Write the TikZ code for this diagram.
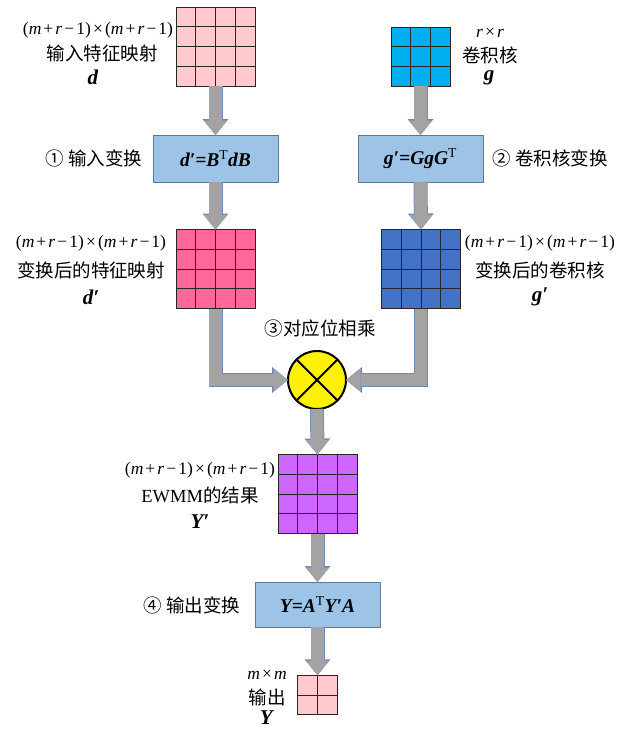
\documentclass[tikz,border=0pt]{standalone}
\usepackage{fontspec}
\setmainfont{Liberation Serif}
\newfontfamily\cjk{Noto Sans CJK SC}
\usetikzlibrary{arrows.meta,calc}

\definecolor{pinklight}{HTML}{FFC9CD}
\definecolor{pinkhot}{HTML}{FF6699}
\definecolor{cyanblue}{HTML}{00B0F0}
\definecolor{darkblue}{HTML}{4472C4}
\definecolor{violet}{HTML}{CC66FF}
\definecolor{boxfill}{HTML}{9DC3E6}
\definecolor{boxedge}{HTML}{5F7896}
\definecolor{arrowgray}{HTML}{A3A3A3}
\definecolor{arrowedge}{HTML}{6F8AB4}

% binary operator with a little space around it
\newcommand\bop[1]{\hspace{0.12em}#1\hspace{0.12em}}
\newcommand\sizeexpr{(\textit{m}\bop{+}\textit{r}\bop{−}1)\bop{×}(\textit{m}\bop{+}\textit{r}\bop{−}1)}
\newcommand\bfi[1]{\textbf{\textit{#1}}}
\newcommand\supT{\textsuperscript{\mdseries\upshape T}}

% a square matrix of cells: name, centre x, centre y, side, fill, inner fractions
\newcommand\matgrid[6]{%
  \node[gridbox, fill=#5, minimum size=#4pt] (#1) at (#2,#3) {};
  \foreach \f in {#6} {
    \draw[gridline] ($(#1.north west)!\f!(#1.north east)$) -- ($(#1.south west)!\f!(#1.south east)$);
    \draw[gridline] ($(#1.north west)!\f!(#1.south west)$) -- ($(#1.north east)!\f!(#1.south east)$);
  }
}

\begin{document}
\begin{tikzpicture}[x=1pt,y=-1pt,
  gridbox/.style={draw=black!85, line width=0.9pt, inner sep=0pt, outer sep=0pt},
  gridline/.style={draw=black!85, line width=0.9pt},
  stagebox/.style={draw=boxedge, line width=0.9pt, fill=boxfill, minimum width=125pt, inner sep=0pt, outer sep=0pt, font=\fontsize{19.5}{21}\selectfont},
  lat/.style={font=\fontsize{17.5}{19}\selectfont, inner sep=0pt},
  zh/.style={font=\fontsize{18.5}{20}\selectfont\cjk, inner sep=0pt},
  sym/.style={font=\fontsize{21}{23}\selectfont, inner sep=0pt},
  fatarrow/.style={draw=arrowgray, line width=12.5pt, line join=miter,
    -{Triangle[length=14.5pt,width=23pt,line width=0pt]},
    preaction={draw=arrowedge, line width=14pt, line join=miter,
      -{Triangle[length=16pt,width=26pt,line width=0pt]}}},
]
\useasboundingbox (0,0) rectangle (626,729);

% matrices
\matgrid{din}{215.5}{46.5}{79}{pinklight}{0.25,0.5,0.75}
\matgrid{gin}{420.5}{56.5}{59}{cyanblue}{0.3333,0.6667}
\matgrid{dt}{215.5}{269}{79}{pinkhot}{0.25,0.5,0.75}
\matgrid{gt}{421}{269}{79}{darkblue}{0.25,0.5,0.75}
\matgrid{yt}{317.5}{494}{79}{violet}{0.25,0.5,0.75}
\matgrid{yout}{317.5}{695}{39.5}{pinklight}{0.5}

% transform stages
\node[stagebox, minimum height=47pt] (bd) at (215.5,158.5) {\bfi{d′=B}\supT\bfi{dB}};
\node[stagebox, minimum height=47pt] (bg) at (420.5,158.5) {\bfi{g′=GgG}\supT};
\node[stagebox, minimum height=45pt] (by) at (317.5,604.5) {\bfi{Y=A}\supT\bfi{Y′A}};

% element-wise multiplication
\node[circle, draw=black, line width=2pt, fill=yellow, minimum size=58pt, inner sep=0pt, outer sep=0pt] (mul) at (317,380) {};
\draw[line width=2pt] (mul.north west) -- (mul.south east);
\draw[line width=2pt] (mul.north east) -- (mul.south west);

% connectors
\draw[fatarrow] (din.south) -- (bd.north);
\draw[fatarrow] (gin.south) -- (bg.north);
\draw[fatarrow] (bd.south) -- (dt.north);
\draw[fatarrow] (bg.south) -- (gt.north);
\draw[fatarrow] (dt.south) |- (mul.west);
\draw[fatarrow] (gt.south) |- (mul.east);
\draw[fatarrow] (mul.south) -- (yt.north);
\draw[fatarrow] (yt.south) -- (by.north);
\draw[fatarrow] (by.south) -- (yout.north);

% labels
\node[lat] (l1a) at (98,30) {\sizeexpr};
\node[zh]  (l1b) at (102,53) {输入特征映射};
\node[sym] (l1c) at (93,77) {\bfi{d}};

\node[lat] (r1a) at (490,33) {\textit{r}\bop{×}\textit{r}};
\node[zh]  (r1b) at (490,55) {卷积核};
\node[sym] (r1c) at (489,78) {\bfi{g}};

\node[zh] (s1) at (94,158) {① 输入变换};
\node[zh] (s2) at (550,158) {② 卷积核变换};

\node[lat] (l2a) at (91,243) {\sizeexpr};
\node[zh]  (l2b) at (91,270) {变换后的特征映射};
\node[sym] (l2c) at (91,297) {\bfi{d′}};

\node[lat] (r2a) at (540,243) {\sizeexpr};
\node[zh]  (r2b) at (540,270) {变换后的卷积核};
\node[sym] (r2c) at (540,297) {\bfi{g′}};

\node[zh] (s3) at (320,328) {③对应位相乘};

\node[lat] (l3a) at (200,470) {\sizeexpr};
\node[zh]  (l3b) at (200,495) {\fontspec{Liberation Serif}EWMM\cjk 的结果};
\node[sym] (l3c) at (200,522) {\bfi{Y′}};

\node[zh] (s4) at (192,605) {④ 输出变换};

\node[lat] (l4a) at (267,675) {\textit{m}\bop{×}\textit{m}};
\node[zh]  (l4b) at (267,697) {输出};
\node[sym] (l4c) at (267,718) {\bfi{Y}};
\end{tikzpicture}
\end{document}
